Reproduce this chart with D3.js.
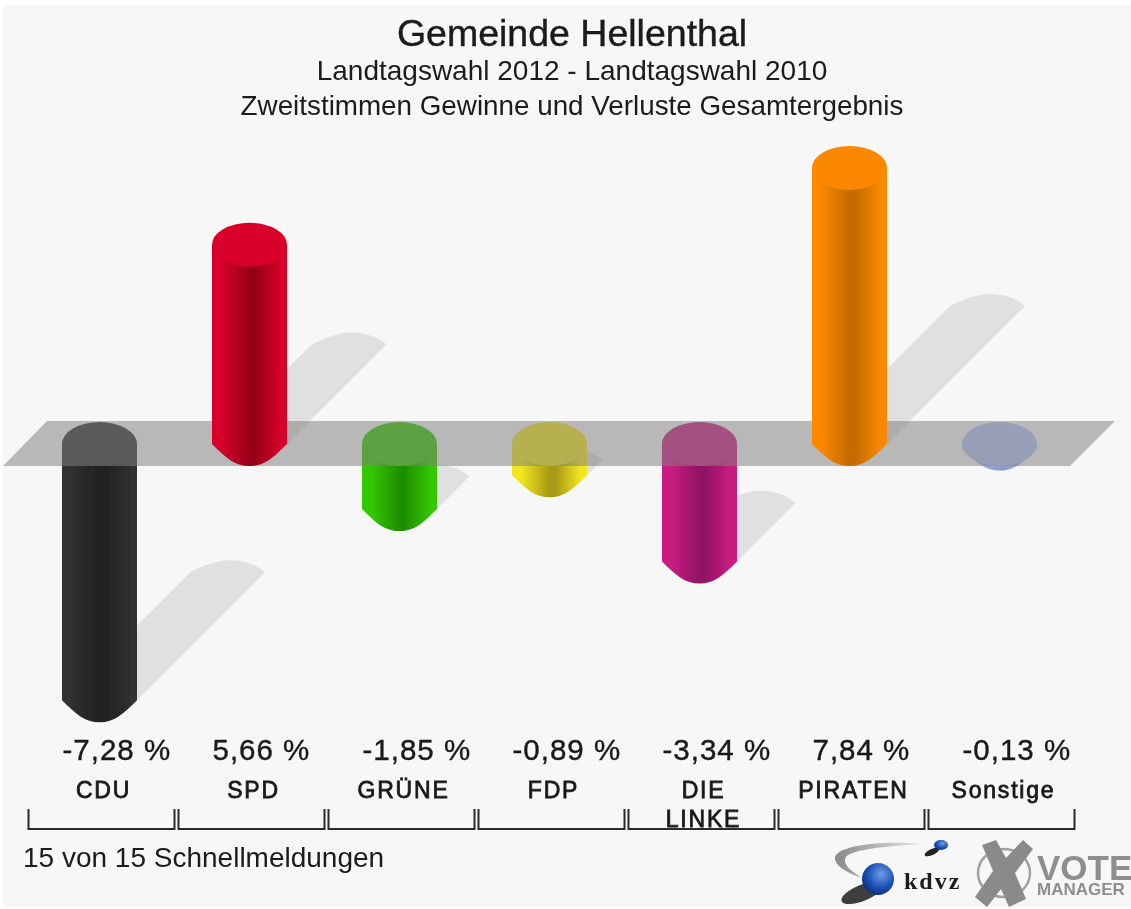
<!DOCTYPE html>
<html>
<head>
<meta charset="utf-8">
<script src="https://cdn.jsdelivr.net/npm/d3@7"></script>
<style>
  html, body { margin: 0; padding: 0; background: #fff; }
  svg { display: block; }
  text { font-family: "Liberation Sans", Arial, sans-serif; fill: #1a1a1a; }
</style>
</head>
<body>
<svg id="canvas" width="1131" height="909"></svg>
<script>
// Chart data
var parties = ["CDU", "SPD", "GRÜNE", "FDP", "DIE LINKE", "PIRATEN", "Sonstige"];
var changes = [-7.28, 5.66, -1.85, -0.89, -3.34, 7.84, -0.13];
var edgeColors = ["#303030", "#d8002c", "#34c800", "#f2e61c", "#c81c82", "#fb8800", "#b3bff0"];
var midColors = ["#222222", "#960018", "#1f8f00", "#a89a18", "#901464", "#c46c00", "#8c98c8"];
var titles = ["Gemeinde Hellenthal", "Landtagswahl 2012 - Landtagswahl 2010", "Zweitstimmen Gewinne und Verluste Gesamtergebnis"];
var footer = "15 von 15 Schnellmeldungen";

var svg = d3.select("#canvas");
var barWidth = 75, capRy = 22, shadowRy = 12;

// Scales
var x = d3.scaleBand().domain(parties).range([24.5, 1074.5]);
var y = d3.scaleLinear().domain([-8, 8]).range([725.6, 162.4]);
var zero = y(0);
function cx(d) { return x(d) + x.bandwidth() / 2; }

var defs = svg.append("defs");
defs.append("filter").attr("id", "soft")
    .append("feGaussianBlur").attr("stdDeviation", 0.7);
var sphere = defs.append("radialGradient").attr("id", "sphere")
    .attr("cx", "0.6").attr("cy", "0.35").attr("r", "0.7");
sphere.append("stop").attr("offset", "0").attr("stop-color", "#6f9de8");
sphere.append("stop").attr("offset", "0.6").attr("stop-color", "#1c52b4");
sphere.append("stop").attr("offset", "1").attr("stop-color", "#0c2c70");
var swoosh = defs.append("linearGradient").attr("id", "swoosh");
swoosh.append("stop").attr("offset", "0").attr("stop-color", "#8a8a8a");
swoosh.append("stop").attr("offset", "1").attr("stop-color", "#e4e4e4");

parties.forEach(function(p, i) {
    var g = defs.append("linearGradient").attr("id", "bar" + i);
    g.append("stop").attr("offset", "0").attr("stop-color", edgeColors[i]);
    g.append("stop").attr("offset", "0.12").attr("stop-color", edgeColors[i]);
    g.append("stop").attr("offset", "0.5").attr("stop-color", midColors[i]);
    g.append("stop").attr("offset", "0.58").attr("stop-color", midColors[i]);
    g.append("stop").attr("offset", "0.92").attr("stop-color", edgeColors[i]);
    g.append("stop").attr("offset", "1").attr("stop-color", edgeColors[i]);
});

// Background
svg.append("rect").attr("x", 3).attr("y", 5).attr("width", 1128).attr("height", 902).attr("fill", "#f7f7f7");

var root = svg.append("g").attr("filter", "url(#soft)");

// Shadows run at 45 degrees from the far end of the bar
function shadowPath(i) {
    var v = changes[i];
    var len = Math.abs(y(v) - zero) / 2;
    var c = cx(parties[i]);
    var r = barWidth / 2;
    var sy = v > 0 ? zero : y(v);      // where the shadow starts
    var ey = sy - len;                 // where it ends
    var ex = c + len;
    return "M" + (c - r) + "," + sy +
        "L" + (ex - r) + "," + ey +
        "C" + (ex - r + 14) + "," + (ey - shadowRy * 0.6) + " " + (ex - 8) + "," + (ey - shadowRy) + " " + ex + "," + (ey - shadowRy) +
        "C" + (ex + 14) + "," + (ey - shadowRy) + " " + (ex + r - 12) + "," + (ey - shadowRy * 0.8) + " " + (ex + r) + "," + ey +
        "L" + (c + r) + "," + sy + "Z";
}
root.append("g").selectAll("path")
    .data(d3.range(parties.length))
    .join("path")
    .attr("d", shadowPath)
    .attr("fill", "#e0e0e0");

// Cylinder body with pointed rounded end
function bodyPath(i) {
    var v = changes[i];
    var c = cx(parties[i]);
    var r = barWidth / 2;
    var top = Math.min(y(v), zero);
    var end = Math.max(y(v), zero);
    return "M" + (c - r) + "," + top +
        "L" + (c - r) + "," + end +
        "C" + (c - r + 14) + "," + (end + 14) + " " + (c - 15) + "," + (end + capRy) + " " + c + "," + (end + capRy) +
        "C" + (c + 15) + "," + (end + capRy) + " " + (c + r - 14) + "," + (end + 14) + " " + (c + r) + "," + end +
        "L" + (c + r) + "," + top + "Z";
}
function drawBars(sel) {
    var bars = root.append("g").selectAll("g")
        .data(sel)
        .join("g");
    bars.append("path")
        .attr("d", bodyPath)
        .attr("fill", function(i) { return "url(#bar" + i + ")"; });
    bars.append("ellipse")
        .attr("cx", function(i) { return cx(parties[i]); })
        .attr("cy", function(i) { return Math.min(y(changes[i]), zero); })
        .attr("rx", barWidth / 2)
        .attr("ry", capRy)
        .attr("fill", function(i) { return edgeColors[i]; });
}
var idx = d3.range(parties.length);
drawBars(idx.filter(function(i) { return changes[i] < 0; }));

// Grey zero plane: over the losses, behind the gains
var planeTop = zero - capRy - 1, planeBottom = zero + capRy;
root.append("path")
    .attr("d", "M47," + planeTop + "L1115," + planeTop + "L1070," + planeBottom + "L3," + planeBottom + "Z")
    .attr("fill", "#808080")
    .attr("fill-opacity", 0.53);

drawBars(idx.filter(function(i) { return changes[i] > 0; }));

// Titles
var titleY = [46, 80, 115], titleSize = [37.5, 28, 27.8];
titles.forEach(function(t, i) {
    root.append("text")
        .attr("x", 572)
        .attr("y", titleY[i])
        .attr("text-anchor", "middle")
        .attr("font-size", titleSize[i])
        .attr("stroke", i === 0 ? "#1a1a1a" : "none")
        .attr("stroke-width", 0.4)
        .text(t);
});

// Values
root.append("g").selectAll("text")
    .data(idx)
    .join("text")
    .attr("x", function(i) { return cx(parties[i]) - barWidth / 2 + 0.5; })
    .attr("y", 760)
    .attr("font-size", 29.5)
    .attr("letter-spacing", 1)
    .attr("stroke", "#1a1a1a")
    .attr("stroke-width", 0.4)
    .text(function(i) { return changes[i].toFixed(2).replace(".", ",") + " %"; });

// Party names
var nameG = root.append("g").selectAll("text")
    .data(parties)
    .join("text")
    .attr("y", 798)
    .attr("text-anchor", "middle")
    .attr("font-size", 23)
    .attr("letter-spacing", 1.8)
    .attr("stroke", "#1a1a1a")
    .attr("stroke-width", 0.8);
nameG.each(function(d) {
    var words = d === "DIE LINKE" ? d.split(" ") : [d];
    var t = d3.select(this);
    words.forEach(function(w, n) {
        t.append("tspan").attr("x", cx(d) + 4).attr("dy", n ? 29 : 0).text(w);
    });
});

// Brackets under each party
root.append("g").selectAll("path")
    .data(parties)
    .join("path")
    .attr("d", function(d) {
        var c = cx(d) + 2;
        return "M" + (c - 73) + ",809V829H" + (c + 73) + "V809";
    })
    .attr("fill", "none")
    .attr("stroke", "#2a2a2a")
    .attr("stroke-width", 2);

root.append("text")
    .attr("x", 23)
    .attr("y", 867)
    .attr("font-size", 28)
    .text(footer);

// Logos, kdvz
var logo = root.append("g");
logo.append("path")
    .attr("d", "M922,844C880,840 838,846 835,857C834,866 848,873 862,878C850,870 842,864 846,857C852,849 890,846 922,844Z")
    .attr("fill", "url(#swoosh)");
logo.append("ellipse").attr("cx", 862).attr("cy", 893).attr("rx", 22).attr("ry", 8).attr("fill", "#111").attr("fill-opacity", 0.8)
    .attr("transform", "rotate(-22 862 893)");
logo.append("circle").attr("cx", 878).attr("cy", 879).attr("r", 16).attr("fill", "url(#sphere)");
logo.append("ellipse").attr("cx", 932).attr("cy", 852).attr("rx", 8).attr("ry", 3).attr("fill", "#222").attr("transform", "rotate(-25 932 852)");
logo.append("ellipse").attr("cx", 941).attr("cy", 845).attr("rx", 7).attr("ry", 5).attr("fill", "url(#sphere)");
logo.append("text").attr("x", 904).attr("y", 889)
    .attr("font-weight", "bold")
    .attr("style", "font-family:'Liberation Serif';fill:#1a1a1a")
    .attr("font-size", 24).attr("letter-spacing", 2).text("kdvz");

// Logos, vote manager
logo.append("ellipse").attr("cx", 1004).attr("cy", 873).attr("rx", 26).attr("ry", 24)
    .attr("fill", "none").attr("stroke", "#a0a0a0").attr("stroke-width", 2.5);
logo.append("path")
    .attr("d", "M982,845L996,840L1006,858L1023,840L1033,849L1015,873L1026,899L1009,907L1001,889L987,907L975,897L993,871Z")
    .attr("fill", "#8a8a8a");
logo.append("text").attr("x", 1037).attr("y", 880)
    .attr("font-weight", "bold").attr("font-size", 35)
    .attr("style", "fill:#8e8e8e").text("VOTE");
logo.append("text").attr("x", 1037).attr("y", 895)
    .attr("font-weight", "bold").attr("font-size", 17)
    .attr("style", "fill:#8e8e8e").text("MANAGER");
</script>
</body>
</html>
